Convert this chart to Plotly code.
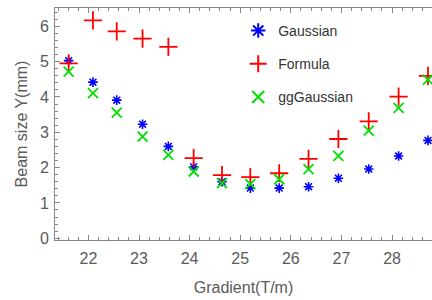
import plotly.graph_objects as go

gradient = [21.61, 22.09, 22.56, 23.07, 23.58, 24.08, 24.64, 25.20, 25.77, 26.35, 26.94, 27.54, 28.13, 28.71]
gaussian = [5.03, 4.42, 3.91, 3.23, 2.60, 2.02, 1.60, 1.42, 1.42, 1.46, 1.70, 1.96, 2.33, 2.77]
formula = [4.95, 6.17, 5.86, 5.65, 5.42, 2.27, 1.79, 1.73, 1.84, 2.25, 2.81, 3.31, 4.01, 4.60]
gggaussian = [4.72, 4.11, 3.56, 2.88, 2.36, 1.89, 1.56, 1.53, 1.67, 1.96, 2.33, 3.05, 3.69, 4.49]

x_ticks = [22, 23, 24, 25, 26, 27, 28]
y_ticks = [0, 1, 2, 3, 4, 5, 6]

FONT = "Liberation Sans, Arial, sans-serif"
GRAY = "#5a5a5a"

fig = go.Figure()
fig.add_trace(go.Scatter(x=gradient, y=gaussian, mode="markers", name="Gaussian",
                         legendgroup="a",
                         marker=dict(symbol="asterisk-open", size=8, color="#0000ff",
                                     line=dict(width=1.6, color="#0000ff"))))
fig.add_trace(go.Scatter(x=gradient, y=formula, mode="markers", name="Formula",
                         legendgroup="b",
                         marker=dict(symbol="cross-thin-open", size=13, color="#ff0000",
                                     line=dict(width=1.8, color="#ff0000"))))
fig.add_trace(go.Scatter(x=gradient, y=gggaussian, mode="markers", name="ggGaussian",
                         legendgroup="c",
                         marker=dict(symbol="x-thin-open", size=10, color="#00e000",
                                     line=dict(width=1.8, color="#00e000"))))

axis_common = dict(
    showline=True, linecolor="#888888", linewidth=1,
    ticks="inside", ticklen=5, tickcolor="#888888",
    showgrid=False, zeroline=False, automargin=False,
    tickfont=dict(family=FONT, size=16, color=GRAY),
    minor=dict(ticks="inside", ticklen=3, tickcolor="#888888", dtick=0.2, showgrid=False),
)

fig.update_layout(
    width=432, height=300,
    margin=dict(l=55, r=0, t=8, b=60),
    paper_bgcolor="white", plot_bgcolor="white",
    showlegend=True,
    legend=dict(x=0.486, y=0.97, xanchor="left", yanchor="top",
                bgcolor="rgba(0,0,0,0)", tracegroupgap=12,
                font=dict(family=FONT, size=14, color="#333333"),
                itemsizing="constant"),
    xaxis=dict(range=[21.34, 28.79], tickvals=x_ticks, mirror="allticks",
               ticklabelstandoff=4,
               title=dict(text="Gradient(T/m)", font=dict(family=FONT, size=16, color=GRAY), standoff=15),
               **axis_common),
    yaxis=dict(range=[-0.05, 6.52], tickvals=y_ticks, mirror=False,
               ticklabelstandoff=2,
               title=dict(text="Beam size Y(mm)", font=dict(family=FONT, size=16, color=GRAY), standoff=8),
               **axis_common),
)

fig.write_html("out.html", config={"displayModeBar": False},
               post_script="document.body.style.margin='0';document.body.style.overflow='hidden';")
